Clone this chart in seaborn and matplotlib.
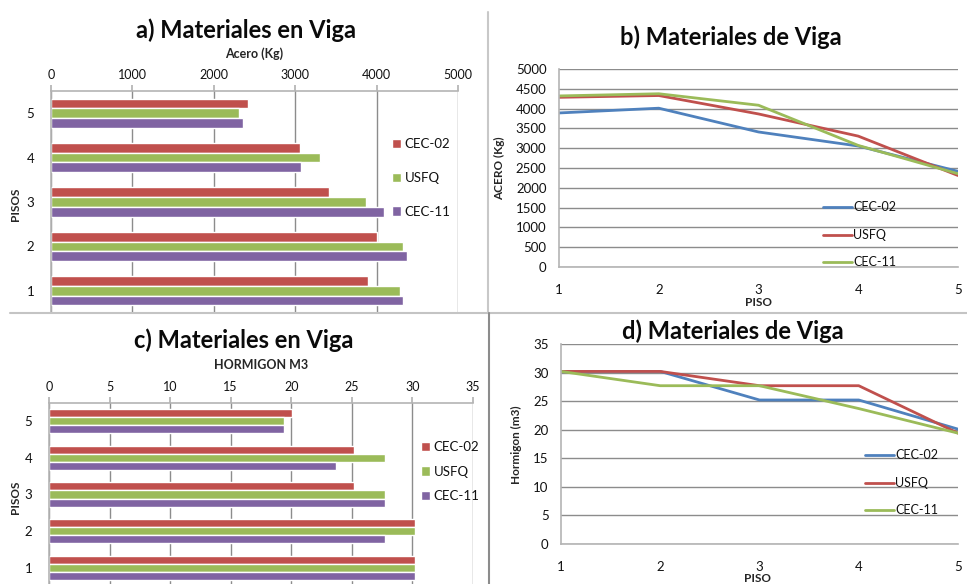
import pandas as pd
import matplotlib
matplotlib.use('Agg')
import matplotlib.pyplot as plt
import seaborn as sns
from matplotlib.lines import Line2D

# Data
pisos = [1, 2, 3, 4, 5]
series = ['CEC-02', 'USFQ', 'CEC-11']

acero_cec02 = [3890, 4010, 3410, 3055, 2415]
acero_usfq = [4285, 4330, 3865, 3305, 2310]
acero_cec11 = [4320, 4375, 4085, 3070, 2355]

hormigon_cec02 = [30.2, 30.2, 25.2, 25.2, 20.1]
hormigon_usfq = [30.2, 30.2, 27.7, 27.7, 19.4]
hormigon_cec11 = [30.2, 27.7, 27.7, 23.7, 19.4]

bar_colors = ['#C0504D', '#9BBB59', '#8064A2']
line_colors = ['#4F81BD', '#C0504D', '#9BBB59']

W, H = 967, 584
GRID = '#8c8c8c'
SPINE = '#b4b4b4'
TXT = '#111111'

sns.set_theme(style="white")
plt.rcParams['font.family'] = ['Lato', 'DejaVu Sans']
plt.rcParams['text.color'] = TXT
plt.rcParams['xtick.color'] = TXT
plt.rcParams['ytick.color'] = TXT


def to_long(values):
    rows = []
    for serie, vals in zip(series, values):
        for p, v in zip(pisos, vals):
            rows.append({'piso': str(p), 'x': p, 'serie': serie, 'valor': v})
    return pd.DataFrame(rows)


def box(l, t, r, b):
    return [l / W, 1 - b / H, (r - l) / W, (b - t) / H]


def bar_panel(ax, df, xmax, step, xlabel, xlabel_y, leg_anchor, spacing):
    sns.barplot(data=df, x='valor', y='piso', hue='serie', order=['5', '4', '3', '2', '1'],
                hue_order=series, palette=bar_colors, orient='h', width=0.66,
                saturation=1, ax=ax, errorbar=None)
    ax.set_xlim(0, xmax)
    ax.set_ylim(4.5, -0.5)
    ax.set_xticks(range(0, xmax + 1, step))
    ax.xaxis.tick_top()
    ax.xaxis.set_label_position('top')
    ax.tick_params(axis='x', which='both', top=True, bottom=False, length=4, pad=3,
                   color=SPINE, labelsize=9)
    ax.tick_params(axis='y', length=0, pad=12, labelsize=9.5)
    ax.grid(axis='x', color=GRID, lw=1)
    ax.set_axisbelow(True)
    for s in ['right', 'bottom']:
        ax.spines[s].set_visible(False)
    for s in ['left', 'top']:
        ax.spines[s].set_color(SPINE)
        ax.spines[s].set_linewidth(1.2)
    ax.set_xlabel(xlabel, fontsize=9, fontweight='bold')
    ax.xaxis.set_label_coords(0.5, xlabel_y)
    ax.xaxis.label.set_va('center')
    ax.set_ylabel('PISOS', fontsize=8.5, fontweight='bold')
    ax.yaxis.label.set_va('center')
    ax.legend(loc='upper left', bbox_to_anchor=leg_anchor, bbox_transform=fig.transFigure,
              frameon=False, fontsize=9.5, handlelength=0.7, handleheight=0.7,
              handletextpad=0.25, labelspacing=spacing, borderpad=0, borderaxespad=0)


def line_panel(ax, df, ymax, step, ylabel, leg_anchor):
    sns.lineplot(data=df, x='x', y='valor', hue='serie', hue_order=series,
                 palette=line_colors, linewidth=2, ax=ax)
    ax.set_xlim(1, 5)
    ax.set_ylim(0, ymax)
    ax.set_xticks(pisos)
    ax.set_yticks(range(0, ymax + 1, step))
    ax.tick_params(axis='x', length=0, pad=12, labelsize=9.5)
    ax.tick_params(axis='y', length=0, pad=9, labelsize=9.5)
    ax.grid(axis='y', color=GRID, lw=1)
    ax.set_axisbelow(True)
    for s in ['right', 'top']:
        ax.spines[s].set_visible(False)
    for s in ['left', 'bottom']:
        ax.spines[s].set_color(SPINE)
        ax.spines[s].set_linewidth(1.2)
    ax.set_xlabel('PISO', fontsize=8.5, fontweight='bold')
    ax.set_ylabel(ylabel, fontsize=8.5, fontweight='bold')
    ax.xaxis.label.set_va('center')
    ax.yaxis.label.set_va('center')
    ax.legend(loc='upper left', bbox_to_anchor=leg_anchor, bbox_transform=fig.transFigure,
              frameon=False, fontsize=9, handlelength=2.3, handleheight=0.5,
              handletextpad=0.1, labelspacing=1.25, borderpad=0, borderaxespad=0)


fig = plt.figure(figsize=(W / 100, H / 100), dpi=100)

# a) bars, steel
ax_a = fig.add_axes(box(51, 91, 458, 313))
bar_panel(ax_a, to_long([acero_cec02, acero_usfq, acero_cec11]), 5000, 1000,
          'Acero (Kg)', 1.17, (392 / W, 1 - 138 / H), 1.65)
ax_a.yaxis.set_label_coords(-0.088, 0.49)

# b) lines, steel
ax_b = fig.add_axes(box(559, 69, 958, 267))
line_panel(ax_b, to_long([acero_cec02, acero_usfq, acero_cec11]), 5000, 500,
           'ACERO (Kg)', (823 / W, 1 - 201 / H))
ax_b.xaxis.set_label_coords(0.5, -0.18)
ax_b.yaxis.set_label_coords(-0.148, 0.5)

# c) bars, concrete
ax_c = fig.add_axes(box(49, 403, 473, 586))
bar_panel(ax_c, to_long([hormigon_cec02, hormigon_usfq, hormigon_cec11]), 35, 5,
          'HORMIGON M3', 1.208, (421 / W, 1 - 441 / H), 0.95)
ax_c.yaxis.set_label_coords(-0.08, 0.486)

# d) lines, concrete
ax_d = fig.add_axes(box(561, 344, 958, 544))
line_panel(ax_d, to_long([hormigon_cec02, hormigon_usfq, hormigon_cec11]), 35, 5,
           'Hormigon (m3)', (865 / W, 1 - 449 / H))
ax_d.xaxis.set_label_coords(0.496, -0.17)
ax_d.yaxis.set_label_coords(-0.113, 0.495)

# titles
titles = [('a) Materiales en Viga', 246, 30), ('b) Materiales de Viga', 731, 37),
          ('c) Materiales en Viga', 244, 340), ('d) Materiales de Viga', 733, 331)]
for text, x, y in titles:
    fig.text(x / W, 1 - y / H, text, ha='center', va='center', fontsize=17,
             fontweight='bold', color='#0a0a0a')

# chart borders
fig.add_artist(Line2D([10 / W, 1], [1 - 313 / H] * 2, color='#c4c4c4', lw=1.5,
                      transform=fig.transFigure))
fig.add_artist(Line2D([488 / W] * 2, [1 - 12 / H, 1 - 313 / H], color='#c8c8c8', lw=1.5,
                      transform=fig.transFigure))
fig.add_artist(Line2D([489 / W] * 2, [1 - 313 / H, 0], color='#8c8c8c', lw=1.5,
                      transform=fig.transFigure))

fig.savefig('out.png', dpi=100)
